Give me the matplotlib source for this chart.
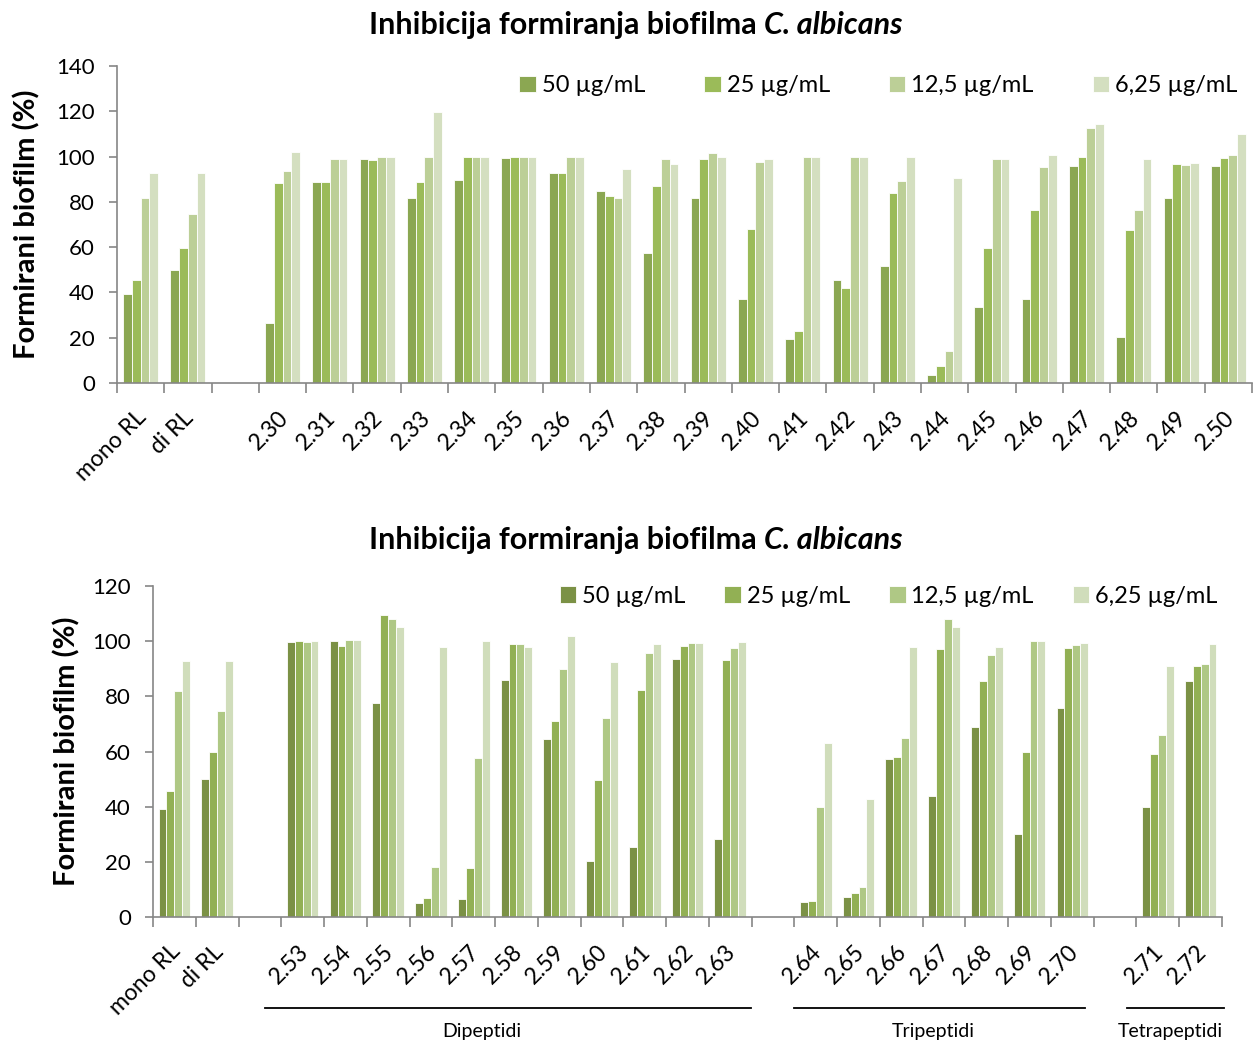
import matplotlib.pyplot as plt
import matplotlib.transforms as mtransforms
import numpy as np

plt.rcParams['font.family'] = ['Lato', 'DejaVu Sans']

series = ['50 µg/mL', '25 µg/mL', '12,5 µg/mL', '6,25 µg/mL']

# gornji graf
top_labels = ['mono RL', 'di RL', '', '2.30', '2.31', '2.32', '2.33', '2.34', '2.35',
              '2.36', '2.37', '2.38', '2.39', '2.40', '2.41', '2.42', '2.43', '2.44',
              '2.45', '2.46', '2.47', '2.48', '2.49', '2.50']
top_50 = [39.1, 49.7, 0, 26.5, 88.8, 99.0, 81.6, 89.6, 99.3, 92.6, 84.7, 57.5, 81.6,
          36.9, 19.6, 45.3, 51.5, 3.4, 33.4, 36.9, 95.9, 20.3, 81.6, 96.0]
top_25 = [45.4, 59.7, 0, 88.5, 88.7, 98.7, 88.7, 99.7, 99.7, 92.6, 82.6, 86.8, 98.8,
          68.1, 22.8, 41.8, 83.8, 7.4, 59.7, 76.3, 99.7, 67.5, 96.5, 99.4]
top_12 = [81.6, 74.7, 0, 93.7, 98.8, 99.6, 99.7, 99.7, 99.7, 99.7, 81.6, 98.8, 101.5,
          97.8, 99.7, 99.7, 89.1, 14.1, 98.8, 95.3, 112.5, 76.3, 96.2, 100.6]
top_6 = [92.6, 92.6, 0, 101.9, 98.8, 99.6, 119.6, 99.7, 99.7, 99.7, 94.7, 96.8, 99.7,
         98.8, 99.7, 99.7, 99.7, 90.7, 98.8, 100.7, 114.3, 99.0, 97.1, 109.9]

# donji graf
bot_labels = ['mono RL', 'di RL', '', '2.53', '2.54', '2.55', '2.56', '2.57', '2.58',
              '2.59', '2.60', '2.61', '2.62', '2.63', '', '2.64', '2.65', '2.66',
              '2.67', '2.68', '2.69', '2.70', '', '2.71', '2.72']
bot_50 = [39.3, 49.9, 0, 99.6, 100.1, 77.6, 5.0, 6.7, 86.0, 64.6, 20.4, 25.5, 93.7,
          28.3, 0, 5.4, 7.1, 57.2, 43.8, 69.0, 30.0, 75.9, 0, 39.9, 85.7]
bot_25 = [45.6, 59.9, 0, 99.9, 98.1, 109.4, 6.8, 17.7, 98.9, 71.0, 49.6, 82.2, 98.1,
          93.1, 0, 5.9, 8.7, 58.0, 97.3, 85.4, 60.0, 97.5, 0, 59.0, 90.9]
bot_12 = [81.9, 74.8, 0, 99.8, 100.6, 107.9, 18.1, 57.6, 98.9, 89.8, 72.3, 95.6, 99.5,
          97.7, 0, 39.7, 11.0, 64.8, 107.9, 95.0, 99.9, 98.5, 0, 65.9, 91.8]
bot_6 = [92.9, 92.9, 0, 99.9, 100.6, 105.1, 97.8, 99.9, 97.8, 101.9, 92.3, 98.8, 99.5,
         99.6, 0, 63.1, 42.6, 97.8, 105.2, 97.8, 99.9, 99.4, 0, 90.9, 98.9]

groups = ['Dipeptidi', 'Tripeptidi', 'Tetrapeptidi']
group_members = [['2.53', '2.63'], ['2.64', '2.70'], ['2.71', '2.72']]

top_colors = ['#8ba752', '#9bbb59', '#bccf97', '#d4dfc0']
bot_colors = ['#7b9145', '#92b054', '#afc885', '#d0ddbb']
axis_gray = '#868686'

fig = plt.figure(figsize=(12.54, 10.45), dpi=100)


def draw(ax, labels, values, colors, ymax, legend_anchor, colspace, ylab_x):
    n = len(labels)
    x = np.arange(n)
    w = 0.185
    for k, (vals, col) in enumerate(zip(values, colors)):
        ax.bar(x + (k - 1.5) * w, vals, w, color=col, edgecolor='white',
               linewidth=0.6, label=series[k])
    ax.set_xlim(-0.5, n - 0.5)
    ax.set_ylim(0, ymax)
    ax.set_yticks(np.arange(0, ymax + 1, 20))
    ax.tick_params(axis='y', labelsize=16, length=6, color=axis_gray, width=1.2,
                   pad=10)
    ax.set_xticks(np.arange(-0.5, n, 1), minor=True)
    ax.set_xticks(x)
    ax.set_xticklabels([])
    ax.tick_params(axis='x', which='minor', length=7, color=axis_gray, width=1.2)
    ax.tick_params(axis='x', which='major', length=0)
    trans = mtransforms.offset_copy(ax.transData, fig=fig, x=-5, y=-24, units='dots')
    for xi, lab in zip(x, labels):
        ax.text(xi, 0, lab, rotation=45, ha='right', va='top',
                rotation_mode='anchor', fontsize=16.5, transform=trans)
    for s in ['top', 'right']:
        ax.spines[s].set_visible(False)
    for s in ['left', 'bottom']:
        ax.spines[s].set_color(axis_gray)
        ax.spines[s].set_linewidth(1.2)
    ax.set_ylabel('Formirani biofilm (%)', fontsize=21, fontweight='bold')
    ax.yaxis.set_label_coords(
        ylab_x, 0.5,
        transform=mtransforms.blended_transform_factory(fig.transFigure, ax.transAxes))
    ax.legend(loc='upper right', bbox_to_anchor=legend_anchor, ncol=4, frameon=False,
              fontsize=17, handlelength=0.7, handleheight=0.7, handletextpad=0.25,
              columnspacing=colspace, borderaxespad=0)


ax1 = fig.add_axes([117 / 1254, 1 - 383 / 1045, 1135 / 1254, 317 / 1045])
draw(ax1, top_labels, [top_50, top_25, top_12, top_6], top_colors, 140,
     (0.9956, 1.0), 2.5, 40 / 1254)

ax2 = fig.add_axes([153 / 1254, 1 - 917 / 1045, 1069 / 1254, 331 / 1045])
draw(ax2, bot_labels, [bot_50, bot_25, bot_12, bot_6], bot_colors, 120,
     (1.0047, 1.03), 1.65, 80 / 1254)

# grupe peptida ispod osi
line_pad = [(0.88, 0.49), (0.51, 0.3), (0.72, 0.55)]
text_shift = [-0.61, -0.14, -0.13]
btrans = mtransforms.blended_transform_factory(ax2.transData, ax2.transAxes)
for name, (first, last), (p0, p1), ts in zip(groups, group_members, line_pad,
                                               text_shift):
    x0 = bot_labels.index(first) - p0
    x1 = bot_labels.index(last) + p1
    ax2.plot([x0, x1], [-0.275, -0.275], color='black', lw=1.3,
             transform=btrans, clip_on=False)
    ax2.text((x0 + x1) / 2 + ts, -0.345, name, ha='center', va='center',
             fontsize=14, transform=btrans)

# naslovi
for ytit in [25 / 1045, 540 / 1045]:
    fig.text(764 / 1254, 1 - ytit, 'Inhibicija formiranja biofilma ', ha='right',
             va='center', fontsize=22, fontweight='bold')
    fig.text(764 / 1254, 1 - ytit, 'C. albicans', ha='left', va='center',
             fontsize=22, fontweight='bold', style='italic')

fig.savefig('out.png', dpi=100)
